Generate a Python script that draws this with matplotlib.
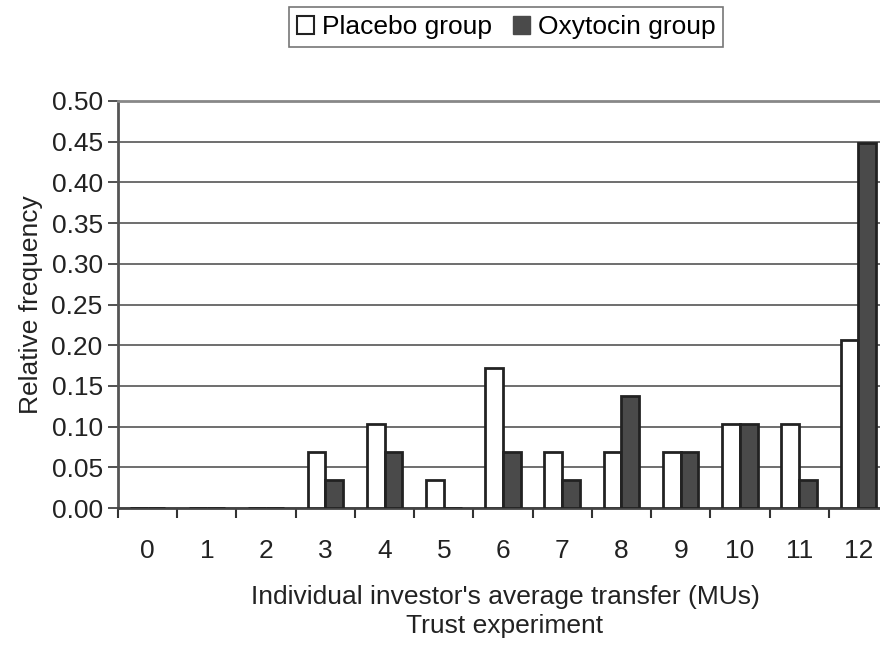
import numpy as np
import matplotlib.pyplot as plt
from matplotlib.patches import Patch

transfer = [0, 1, 2, 3, 4, 5, 6, 7, 8, 9, 10, 11, 12]
placebo = [0, 0, 0, 0.069, 0.103, 0.034, 0.172, 0.069, 0.069, 0.069, 0.103, 0.103, 0.207]
oxytocin = [0, 0, 0, 0.034, 0.069, 0, 0.069, 0.034, 0.138, 0.069, 0.103, 0.034, 0.448]
yticks = [0.00, 0.05, 0.10, 0.15, 0.20, 0.25, 0.30, 0.35, 0.40, 0.45, 0.50]

plt.rcParams['font.family'] = ['Liberation Sans', 'DejaVu Sans']
fs = 19

fig = plt.figure(figsize=(8.8, 6.48), dpi=100)
# plot area runs past the right edge, as in the reference
ax = fig.add_axes([118 / 880, 1 - 508 / 648, 770 / 880, 407 / 648])

x = np.arange(len(transfer))
w = 0.3
ax.bar(x - w / 2, placebo, w, color="white", edgecolor="#222222", linewidth=2, zorder=3)
ax.bar(x + w / 2, oxytocin, w, color="#4a4a4a", edgecolor="#222222", linewidth=2, zorder=3)

ax.set_xlim(-0.5, len(transfer) - 0.5)
ax.set_ylim(0, 0.5)
ax.set_yticks(yticks)
ax.set_yticklabels(["%.2f" % v for v in yticks], fontsize=fs, color="#222222")
ax.set_xticks(x)
ax.set_xticklabels([str(t) for t in transfer], fontsize=fs, color="#222222")
ax.set_xticks(np.arange(-0.5, len(transfer), 1), minor=True)
ax.tick_params(axis="x", which="major", length=0, pad=22)
ax.tick_params(axis="x", which="minor", length=7, width=1.5, color="#333333", direction="out")
ax.tick_params(axis="y", length=7, width=1.2, color="#333333", direction="out", pad=4)

ax.grid(axis="y", color="#555555", linewidth=1.2, zorder=0)
for s in ["top", "left", "bottom"]:
    ax.spines[s].set_linewidth(2)
ax.spines["top"].set_color("#888888")
ax.spines["left"].set_color("#555555")
ax.spines["bottom"].set_color("#444444")
ax.spines["right"].set_visible(False)

ax.set_ylabel("Relative frequency", fontsize=fs, color="#222222", labelpad=6)
ax.set_xlabel("Individual investor's average transfer (MUs)\nTrust experiment",
              fontsize=fs, color="#222222", linespacing=1.25)
# center x-label over the visible part of the figure
ax.xaxis.set_label_coords((505 - 118) / 770, -0.19)

handles = [Patch(facecolor="white", edgecolor="#222222", linewidth=1.5),
           Patch(facecolor="#4a4a4a", edgecolor="#4a4a4a")]
leg = fig.legend(handles, ["Placebo group", "Oxytocin group"], ncol=2,
                 loc="center", bbox_to_anchor=(506 / 880, 1 - 27 / 648),
                 fontsize=fs, frameon=True, fancybox=False, handlelength=0.65,
                 handleheight=0.65, handletextpad=0.3, columnspacing=0.8,
                 borderpad=0.3)
leg.get_frame().set_edgecolor("#555555")
leg.get_frame().set_linewidth(1.2)

fig.savefig("out.png", dpi=100)
